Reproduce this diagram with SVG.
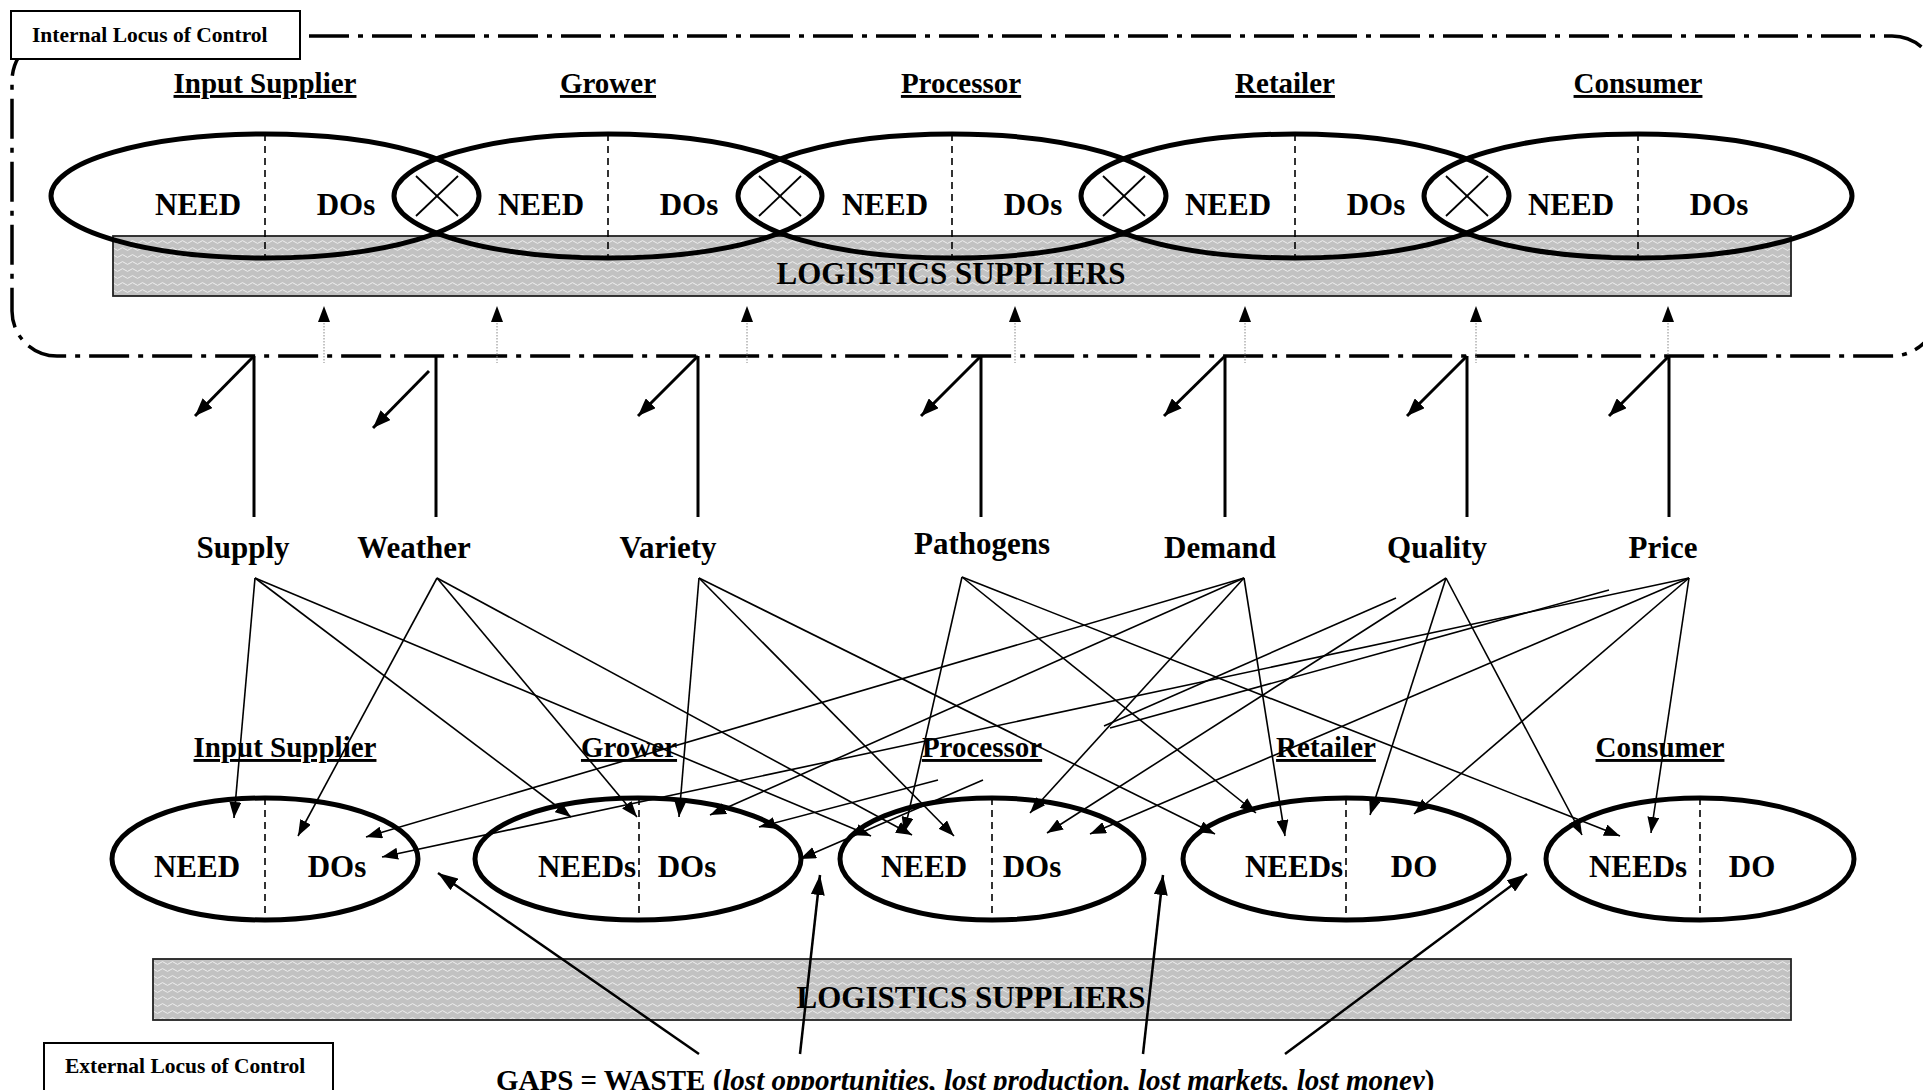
<svg xmlns="http://www.w3.org/2000/svg" width="1923" height="1090" viewBox="0 0 1923 1090">
<style>
text{font-family:"Liberation Serif","Times New Roman",serif;font-weight:bold;fill:#000}
.role{font-size:29px;text-anchor:middle;text-decoration:underline}
.in{font-size:31px;text-anchor:middle}
.fac{font-size:31px;text-anchor:middle}
.ell{fill:none;stroke:#000;stroke-width:5}
.div{stroke:#000;stroke-width:1.6;stroke-dasharray:7 5}
.bar{fill:url(#wave);stroke:#222;stroke-width:1.8}
.thin{stroke:#000;stroke-width:1.6;fill:none}
.thina{stroke:#000;stroke-width:1.6;fill:none;marker-end:url(#ah)}
.vert{stroke:#000;stroke-width:3}
.diag{stroke:#000;stroke-width:3;marker-end:url(#ahb)}
.gap{stroke:#000;stroke-width:2.5;marker-end:url(#ahg)}
.dot{stroke:#888;stroke-width:1;stroke-dasharray:1.5 1.5}
.xl{stroke:#000;stroke-width:1.8}
</style>
<defs>
<pattern id="wave" width="10" height="7" patternUnits="userSpaceOnUse">
<rect width="10" height="7" fill="#c2c2c2"/>
<path d="M0 4 Q2.5 1.2 5 4 T10 4" fill="none" stroke="#eeeeee" stroke-width="1"/>
</pattern>
<marker id="ah" viewBox="0 0 16 12" refX="16" refY="6" markerWidth="16" markerHeight="12" markerUnits="userSpaceOnUse" orient="auto"><path d="M0,0 L16,6 L0,12 z" fill="#000"/></marker>
<marker id="ahb" viewBox="0 0 18 14" refX="18" refY="7" markerWidth="18" markerHeight="14" markerUnits="userSpaceOnUse" orient="auto"><path d="M0,0 L18,7 L0,14 z" fill="#000"/></marker>
<marker id="ahg" viewBox="0 0 20 14" refX="20" refY="7" markerWidth="20" markerHeight="14" markerUnits="userSpaceOnUse" orient="auto"><path d="M0,0 L20,7 L0,14 z" fill="#000"/></marker>
</defs>
<rect width="1923" height="1090" fill="#fff"/>

<!-- internal locus boundary -->
<rect id="internal-boundary" x="12" y="36" width="1925" height="320" rx="45" fill="none" stroke="#000" stroke-width="3.5" stroke-dasharray="40 9 5 9"/>
<g id="internal-label">
<rect x="11" y="11" width="289" height="48" fill="#fff" stroke="#000" stroke-width="2"/>
<text x="32" y="42" font-size="21.5">Internal Locus of Control</text>
</g>

<!-- top logistics bar -->
<g id="top-logistics">
<rect class="bar" x="113" y="236" width="1678" height="60"/>
</g>

<!-- top ellipses -->
<g id="top-input-supplier">
<text class="role" x="265" y="93">Input Supplier</text>
<ellipse class="ell" cx="265" cy="196" rx="214" ry="62"/>
<line class="div" x1="265" y1="134" x2="265" y2="258"/>
<text class="in" x="198" y="215">NEED</text><text class="in" x="346" y="215">DOs</text>
</g>
<g id="top-grower">
<text class="role" x="608" y="93">Grower</text>
<ellipse class="ell" cx="608" cy="196" rx="214" ry="62"/>
<line class="div" x1="608" y1="134" x2="608" y2="258"/>
<text class="in" x="541" y="215">NEED</text><text class="in" x="689" y="215">DOs</text>
</g>
<g id="top-processor">
<text class="role" x="961" y="93">Processor</text>
<ellipse class="ell" cx="952" cy="196" rx="214" ry="62"/>
<line class="div" x1="952" y1="134" x2="952" y2="258"/>
<text class="in" x="885" y="215">NEED</text><text class="in" x="1033" y="215">DOs</text>
</g>
<g id="top-retailer">
<text class="role" x="1285" y="93">Retailer</text>
<ellipse class="ell" cx="1295" cy="196" rx="214" ry="62"/>
<line class="div" x1="1295" y1="134" x2="1295" y2="258"/>
<text class="in" x="1228" y="215">NEED</text><text class="in" x="1376" y="215">DOs</text>
</g>
<g id="top-consumer">
<text class="role" x="1638" y="93">Consumer</text>
<ellipse class="ell" cx="1638" cy="196" rx="214" ry="62"/>
<line class="div" x1="1638" y1="134" x2="1638" y2="258"/>
<text class="in" x="1571" y="215">NEED</text><text class="in" x="1719" y="215">DOs</text>
</g>
<g id="top-logistics-label">
<text class="in" x="951" y="284">LOGISTICS SUPPLIERS</text>
</g>
<g id="gap-crosses">
<line class="xl" x1="416" y1="176" x2="458" y2="216"/><line class="xl" x1="458" y1="176" x2="416" y2="216"/>
<line class="xl" x1="759" y1="176" x2="801" y2="216"/><line class="xl" x1="801" y1="176" x2="759" y2="216"/>
<line class="xl" x1="1103" y1="176" x2="1145" y2="216"/><line class="xl" x1="1145" y1="176" x2="1103" y2="216"/>
<line class="xl" x1="1446" y1="176" x2="1488" y2="216"/><line class="xl" x1="1488" y1="176" x2="1446" y2="216"/>
</g>

<!-- factors -->
<g id="factor-supply"><text class="fac" x="243" y="558">Supply</text></g>
<g id="factor-weather"><text class="fac" x="414" y="558">Weather</text></g>
<g id="factor-variety"><text class="fac" x="668" y="558">Variety</text></g>
<g id="factor-pathogens"><text class="fac" x="982" y="554" font-size="28">Pathogens</text></g>
<g id="factor-demand"><text class="fac" x="1220" y="558">Demand</text></g>
<g id="factor-quality"><text class="fac" x="1437" y="558">Quality</text></g>
<g id="factor-price"><text class="fac" x="1663" y="558">Price</text></g>

<!-- bottom ellipses -->
<g id="bottom-input-supplier">
<text class="role" x="285" y="757">Input Supplier</text>
<ellipse class="ell" cx="265" cy="859" rx="153" ry="61"/>
<line class="div" x1="265" y1="798" x2="265" y2="920"/>
<text class="in" x="197" y="877">NEED</text><text class="in" x="337" y="877">DOs</text>
</g>
<g id="bottom-grower">
<text class="role" x="629" y="757">Grower</text>
<ellipse class="ell" cx="638" cy="859" rx="163" ry="61"/>
<line class="div" x1="639" y1="798" x2="639" y2="920"/>
<text class="in" x="587" y="877">NEEDs</text><text class="in" x="687" y="877">DOs</text>
</g>
<g id="bottom-processor">
<text class="role" x="982" y="757">Processor</text>
<ellipse class="ell" cx="992" cy="859" rx="152" ry="61"/>
<line class="div" x1="992" y1="798" x2="992" y2="920"/>
<text class="in" x="924" y="877">NEED</text><text class="in" x="1032" y="877">DOs</text>
</g>
<g id="bottom-retailer">
<text class="role" x="1326" y="757">Retailer</text>
<ellipse class="ell" cx="1346" cy="859" rx="163" ry="61"/>
<line class="div" x1="1346" y1="798" x2="1346" y2="920"/>
<text class="in" x="1294" y="877">NEEDs</text><text class="in" x="1414" y="877">DO</text>
</g>
<g id="bottom-consumer">
<text class="role" x="1660" y="757">Consumer</text>
<ellipse class="ell" cx="1700" cy="859" rx="154" ry="61"/>
<line class="div" x1="1700" y1="798" x2="1700" y2="920"/>
<text class="in" x="1638" y="877">NEEDs</text><text class="in" x="1752" y="877">DO</text>
</g>

<g id="bottom-logistics">
<rect class="bar" x="153" y="959" width="1638" height="61"/>
<text class="in" x="971" y="1008">LOGISTICS SUPPLIERS</text>
</g>

<g id="external-label">
<rect x="44" y="1043" width="289" height="60" fill="#fff" stroke="#000" stroke-width="2"/>
<text x="65" y="1073" font-size="21.5">External Locus of Control</text>
</g>

<g id="gaps-label">
<text x="496" y="1090" font-size="29">GAPS = WASTE (<tspan font-style="italic">lost opportunities, lost production, lost markets, lost money</tspan>)</text>
</g>

<!-- connectors -->
<g id="connectors">
<g>
<line class="dot" x1="324" y1="320" x2="324" y2="363"/><path d="M318,322 L324,306 L330,322 z"/>
<line class="dot" x1="497" y1="320" x2="497" y2="363"/><path d="M491,322 L497,306 L503,322 z"/>
<line class="dot" x1="747" y1="320" x2="747" y2="363"/><path d="M741,322 L747,306 L753,322 z"/>
<line class="dot" x1="1015" y1="320" x2="1015" y2="363"/><path d="M1009,322 L1015,306 L1021,322 z"/>
<line class="dot" x1="1245" y1="320" x2="1245" y2="363"/><path d="M1239,322 L1245,306 L1251,322 z"/>
<line class="dot" x1="1476" y1="320" x2="1476" y2="363"/><path d="M1470,322 L1476,306 L1482,322 z"/>
<line class="dot" x1="1668" y1="320" x2="1668" y2="363"/><path d="M1662,322 L1668,306 L1674,322 z"/>
</g>
<line class="vert" x1="254" y1="356" x2="254" y2="517"/><line class="diag" x1="254" y1="356" x2="195" y2="416"/>
<line class="vert" x1="436" y1="356" x2="436" y2="517"/><line class="diag" x1="429" y1="371" x2="373" y2="428"/>
<line class="vert" x1="698" y1="356" x2="698" y2="517"/><line class="diag" x1="698" y1="356" x2="638" y2="416"/>
<line class="vert" x1="981" y1="356" x2="981" y2="517"/><line class="diag" x1="981" y1="356" x2="921" y2="416"/>
<line class="vert" x1="1225" y1="356" x2="1225" y2="517"/><line class="diag" x1="1225" y1="356" x2="1164" y2="416"/>
<line class="vert" x1="1467" y1="356" x2="1467" y2="517"/><line class="diag" x1="1467" y1="356" x2="1407" y2="416"/>
<line class="vert" x1="1669" y1="356" x2="1669" y2="517"/><line class="diag" x1="1669" y1="356" x2="1609" y2="416"/>

<line class="thina" x1="255" y1="578" x2="234" y2="818"/>
<line class="thina" x1="255" y1="578" x2="571" y2="817"/>
<line class="thina" x1="255" y1="578" x2="871" y2="836"/>
<line class="thina" x1="437" y1="578" x2="298" y2="836"/>
<line class="thina" x1="437" y1="578" x2="637" y2="817"/>
<line class="thina" x1="437" y1="578" x2="912" y2="835"/>
<line class="thina" x1="699" y1="578" x2="679" y2="817"/>
<line class="thina" x1="699" y1="578" x2="954" y2="836"/>
<line class="thina" x1="699" y1="578" x2="1215" y2="834"/>
<line class="thina" x1="962" y1="577" x2="904" y2="833"/>
<line class="thina" x1="962" y1="577" x2="1256" y2="813"/>
<line class="thina" x1="962" y1="577" x2="1620" y2="836"/>
<line class="thina" x1="1244" y1="578" x2="366" y2="837"/>
<line class="thina" x1="1244" y1="578" x2="710" y2="815"/>
<line class="thina" x1="1244" y1="578" x2="1030" y2="813"/>
<line class="thina" x1="1244" y1="578" x2="1285" y2="836"/>
<line class="thina" x1="1446" y1="578" x2="1047" y2="833"/>
<line class="thina" x1="1446" y1="578" x2="1370" y2="815"/>
<line class="thina" x1="1446" y1="578" x2="1582" y2="835"/>
<line class="thina" x1="1689" y1="578" x2="382" y2="857"/>
<line class="thina" x1="1689" y1="578" x2="1090" y2="834"/>
<line class="thina" x1="1689" y1="578" x2="1414" y2="814"/>
<line class="thina" x1="1689" y1="578" x2="1651" y2="833"/>
<line class="thin" x1="1396" y1="598" x2="1104" y2="726"/>
<line class="thina" x1="983" y1="780" x2="800" y2="859"/>
<line class="thin" x1="1609" y1="590" x2="1110" y2="728"/>
<line class="thina" x1="938" y1="780" x2="759" y2="827"/>

<line class="gap" x1="699" y1="1054" x2="438" y2="873"/>
<line class="gap" x1="800" y1="1054" x2="820" y2="875"/>
<line class="gap" x1="1143" y1="1054" x2="1163" y2="875"/>
<line class="gap" x1="1285" y1="1054" x2="1527" y2="874"/>
</g>
</svg>
